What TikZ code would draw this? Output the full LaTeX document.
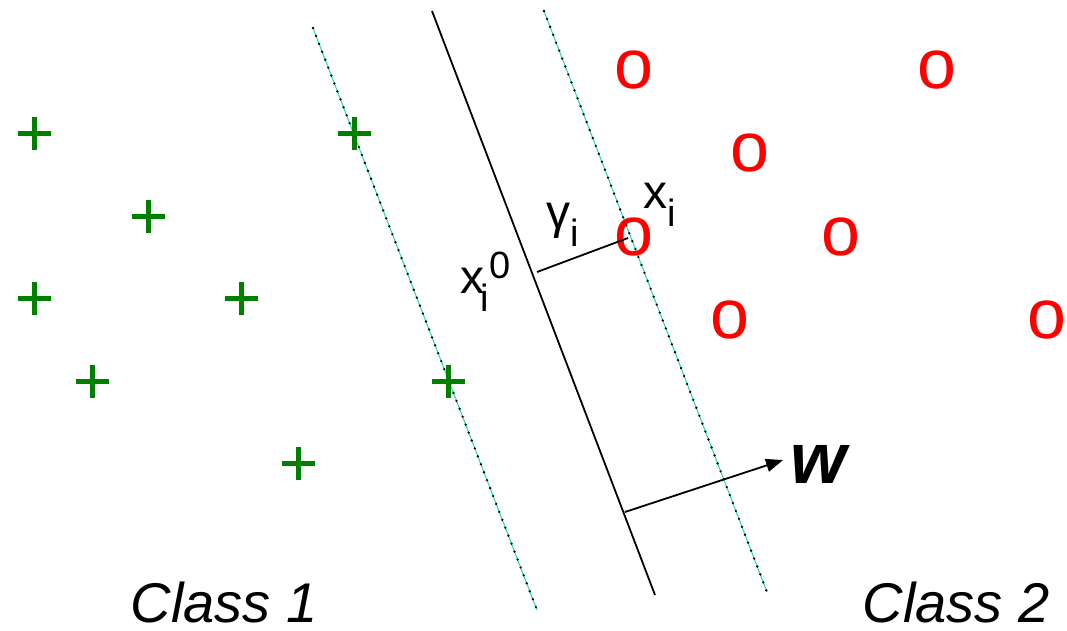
\documentclass[tikz,border=0pt]{standalone}
\usepackage{fontspec}
\setmainfont{Liberation Sans}
\usetikzlibrary{arrows.meta}
\definecolor{plusgreen}{RGB}{0,128,0}
\definecolor{margin}{RGB}{30,220,170}
\tikzset{
  plusmark/.pic={\draw[plusgreen,line width=5pt] (-16.5,0) -- (16.5,0) (0,-16.5) -- (0,16.5);},
  omark/.style={text=red,inner sep=0pt,font=\fontsize{70}{70}\selectfont},
  marginline/.style={margin,line width=1pt,postaction={draw=black,line width=2.6pt,dash pattern=on 0pt off 8.5pt,line cap=round}},
  hyper/.style={black,line width=1.8pt},
  lbl/.style={inner sep=0pt,font=\fontsize{48}{48}\selectfont},
  cls/.style={inner sep=0pt,anchor=base,text depth=0pt,font=\fontsize{56}{56}\selectfont\itshape},
}
\newcommand{\smalltxt}{\fontsize{38}{38}\selectfont}
\begin{document}
\begin{tikzpicture}[x=1pt,y=-1pt]
\useasboundingbox[fill=white] (0,0) rectangle (1067,630);
% margin lines and hyperplane
\coordinate (l1) at (313,28);  \coordinate (l2) at (537,610);
\coordinate (h1) at (432,11);  \coordinate (h2) at (655,595);
\coordinate (r1) at (544,11);  \coordinate (r2) at (767,592);
\draw[marginline] (l1) -- (l2);
\draw[marginline] (r1) -- (r2);
\draw[hyper] (h1) -- (h2);
% class 1 points
\foreach \x/\y in {34/133,148/216,34/298,241/298,92/381,298/463,354/133,448/381}
  \pic at (\x,\y) {plusmark};
% class 2 points
\node[omark] (o1) at (634,70) {o};
\node[omark] (o2) at (937,70) {o};
\node[omark] (o3) at (750,153) {o};
\node[omark] (o4) at (634,237) {o};
\node[omark] (o5) at (841,237) {o};
\node[omark] (o6) at (730,320) {o};
\node[omark] (o7) at (1047,320) {o};
% gamma segment
\coordinate (x0) at (537,272);
\coordinate (xi) at (628,238);
\draw[line width=1.8pt] (x0) -- (xi);
% w vector
\coordinate (wb) at (625,512);
\coordinate (wt) at (783,460);
\draw[line width=1.8pt,-{Triangle[length=17pt,width=13pt]}] (wb) -- (wt);
% labels
\node[lbl,anchor=base west] (gam) at (546,228) {γ\textsubscript{\smalltxt i}};
\node[lbl,anchor=base west] (xil) at (643,208) {x\textsubscript{\smalltxt i}};
\node[lbl,anchor=base west] (xi0) at (460,293) {x$\!$\textsubscript{\smalltxt i}\raisebox{15pt}{\smalltxt 0}};
\node[inner sep=0pt,anchor=base west,font=\fontsize{72}{72}\selectfont\bfseries\itshape] (wl) at (790,483) {w};
\node[cls] (c1) at (224,622) {Class 1};
\node[cls] (c2) at (956,622) {Class 2};
\end{tikzpicture}
\end{document}
